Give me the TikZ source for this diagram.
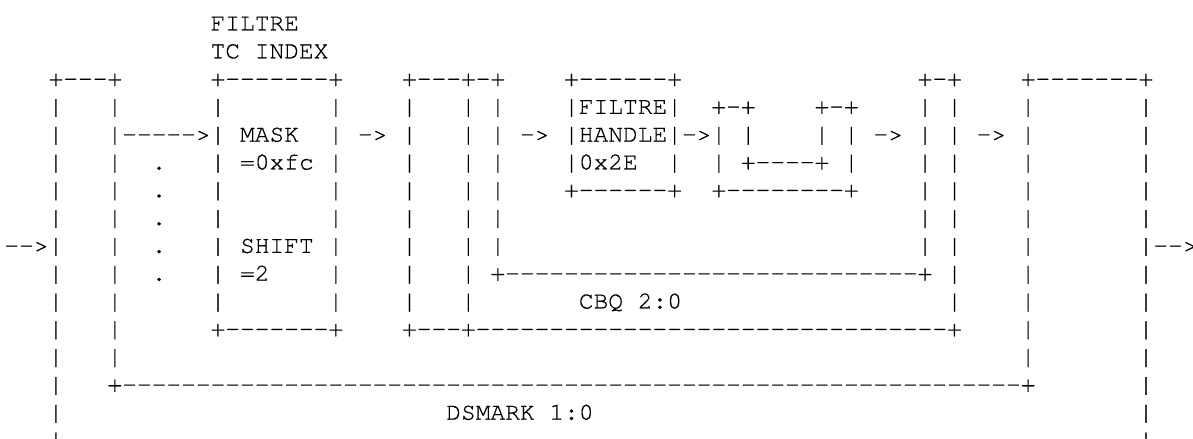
\documentclass[tikz,border=0pt]{standalone}
\usepackage{fontspec}
\newfontfamily\asciifont{texgyrecursor-regular}[Extension=.otf, FakeBold=0.5]

% rows of the figure, spaces kept as real characters
\begingroup
\catcode`\ =12\relax%
\gdef\rowa{              FILTRE}%
\gdef\rowb{              TC INDEX}%
\gdef\rowc{   +---+      +-------+    +---+-+    +------+                +-+    +-------+}%
\gdef\rowd{   |   |      |       |    |   | |    |FILTRE|  +-+    +-+    | |    |       |}%
\gdef\rowe{   |   |----->| MASK  | -> |   | | -> |HANDLE|->| |    | | -> | | -> |       |}%
\gdef\rowf{   |   |  .   | =0xfc |    |   | |    |0x2E  |  | +----+ |    | |    |       |}%
\gdef\rowg{   |   |  .   |       |    |   | |    +------+  +--------+    | |    |       |}%
\gdef\rowh{   |   |  .   |       |    |   | |                            | |    |       |}%
\gdef\rowi{-->|   |  .   | SHIFT |    |   | |                            | |    |       |-->}%
\gdef\rowj{   |   |  .   | =2    |    |   | +----------------------------+ |    |       |}%
\gdef\rowk{   |   |      |       |    |   |       CBQ 2:0                  |    |       |}%
\gdef\rowl{   |   |      +-------+    +---+--------------------------------+    |       |}%
\gdef\rowm{   |   |                                                             |       |}%
\gdef\rown{   |   +-------------------------------------------------------------+       |}%
\gdef\rowo{   |                          DSMARK 1:0                                     |}%
\gdef\rowp{   |                                                                         |}%
\endgroup

\begin{document}
\begin{tikzpicture}[x=1bp,y=1bp,
  line/.style={anchor=base west, inner sep=0pt, outer sep=0pt,
    font=\asciifont\fontsize{24.55bp}{27.8bp}\selectfont}]

  % Frame of the picture
  \useasboundingbox (0,0) rectangle (1193,-439);

  % Text rows, one under the other
  \node[line] (ra) at (4.4,-30.5) {\rowa};
  \node[line] (rb) at (4.4,-58.3) {\rowb};
  \node[line] (rc) at (4.4,-86.1) {\rowc};
  \node[line] (rd) at (4.4,-113.9) {\rowd};
  \node[line] (re) at (4.4,-141.7) {\rowe};
  \node[line] (rf) at (4.4,-169.5) {\rowf};
  \node[line] (rg) at (4.4,-197.3) {\rowg};
  \node[line] (rh) at (4.4,-225.1) {\rowh};
  \node[line] (ri) at (4.4,-252.9) {\rowi};
  \node[line] (rj) at (4.4,-280.7) {\rowj};
  \node[line] (rk) at (4.4,-308.5) {\rowk};
  \node[line] (rl) at (4.4,-336.3) {\rowl};
  \node[line] (rm) at (4.4,-364.1) {\rowm};
  \node[line] (rn) at (4.4,-391.9) {\rown};
  \node[line] (ro) at (4.4,-419.7) {\rowo};
  \node[line] (rp) at (4.4,-447.5) {\rowp};

\end{tikzpicture}
\end{document}
